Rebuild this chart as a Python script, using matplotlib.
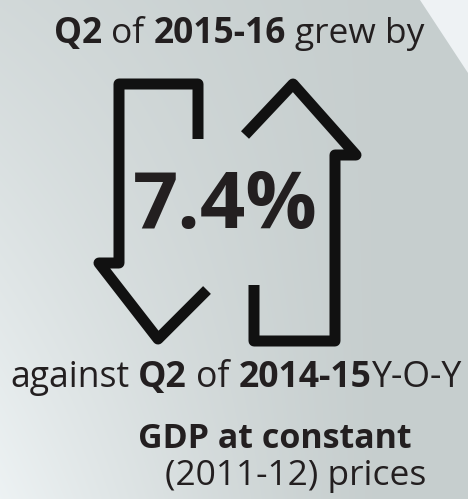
import numpy as np
import matplotlib
matplotlib.use('Agg')
from matplotlib import pyplot as plt
from matplotlib.patches import Polygon

# -- values shown on the card --
growth_pct = 7.4
headline = ["Q2", " of ", "2015-16", " grew by"]
headline_bold = [True, False, True, False]
against = ["against ", "Q2", " of ", "2014-15", "Y-O-Y"]
against_bold = [False, True, False, True, False]
measure = "GDP at constant"
base_year = "(2011-12) prices"

# arrow icon outline (pixel space of the card)
down_x = [198, 198, 119, 119, 99, 158, 207]
down_y = [139, 84, 84, 263, 263, 339, 290]
up_x = [245, 293, 356, 335, 335, 254, 254]
up_y = [135, 84, 155, 155, 341, 341, 285]

FONT = 'Open Sans'
INK = '#231f20'
W, H = 468, 499

fig = plt.figure(figsize=(W / 100, H / 100), dpi=100)
ax = fig.add_axes([0, 0, 1, 1])
ax.set_xlim(0, W)
ax.set_ylim(H, 0)
ax.axis('off')

# background gradient, light towards bottom-left
yy, xx = np.mgrid[0:H, 0:W]
w = np.clip(1 - xx / (0.8 * W), 0, 1) * (0.35 + 0.65 * yy / H)
w = w ** 1.2
gray = np.array([0.78, 0.81, 0.81])
light = np.array([0.93, 0.95, 0.955])
bg = gray[None, None, :] * (1 - w[..., None]) + light[None, None, :] * w[..., None]
ax.imshow(bg, extent=(0, W, H, 0), aspect='auto', zorder=0)
ax.add_patch(Polygon([[420, 0], [W, 0], [W, 73]], closed=True,
                     facecolor='#eef2f4', edgecolor='none', zorder=1))

# arrows
lw = 11 * 72 / 100
for xs, ys in [(down_x, down_y), (up_x, up_y)]:
    ax.plot(xs, ys, color='#111111', lw=lw, solid_joinstyle='round',
            solid_capstyle='butt', zorder=2)

rend = fig.canvas.get_renderer()


def text_w(s, bold, size):
    t = ax.text(0, 0, s, fontsize=size, fontweight='bold' if bold else 'normal',
                family=FONT)
    wd = t.get_window_extent(renderer=rend).width
    t.remove()
    return wd


def row_width(parts, bolds, size):
    total = 0
    for s, b in zip(parts, bolds):
        sp = text_w('a a', b, size) - text_w('aa', b, size)
        core = s.strip()
        total += (len(s) - len(s.lstrip())) * sp
        total += text_w(core, b, size) if core else 0
        total += (len(s) - len(s.rstrip())) * sp
    return total


def draw_row(parts, bolds, left, right, baseline, size):
    # fit the size to the span the row covers on the card
    size = size * (right - left) / row_width(parts, bolds, size)
    x = left
    for s, b in zip(parts, bolds):
        sp = text_w('a a', b, size) - text_w('aa', b, size)
        core = s.strip()
        x += (len(s) - len(s.lstrip())) * sp
        if core:
            ax.text(x, baseline, core, fontsize=size,
                    fontweight='bold' if b else 'normal', family=FONT,
                    color=INK, ha='left', va='baseline', zorder=3)
            x += text_w(core, b, size)
        x += (len(s) - len(s.rstrip())) * sp


draw_row(headline, headline_bold, 54, 426, 43, 26)
draw_row(['%.1f%%' % growth_pct], [True], 133, 318, 228, 56)
draw_row(against, against_bold, 10, 465, 387, 24)
draw_row([measure], [True], 138, 413, 448, 24)
draw_row([base_year], [False], 165, 428, 485, 23)

fig.savefig('out.png', dpi=100)
